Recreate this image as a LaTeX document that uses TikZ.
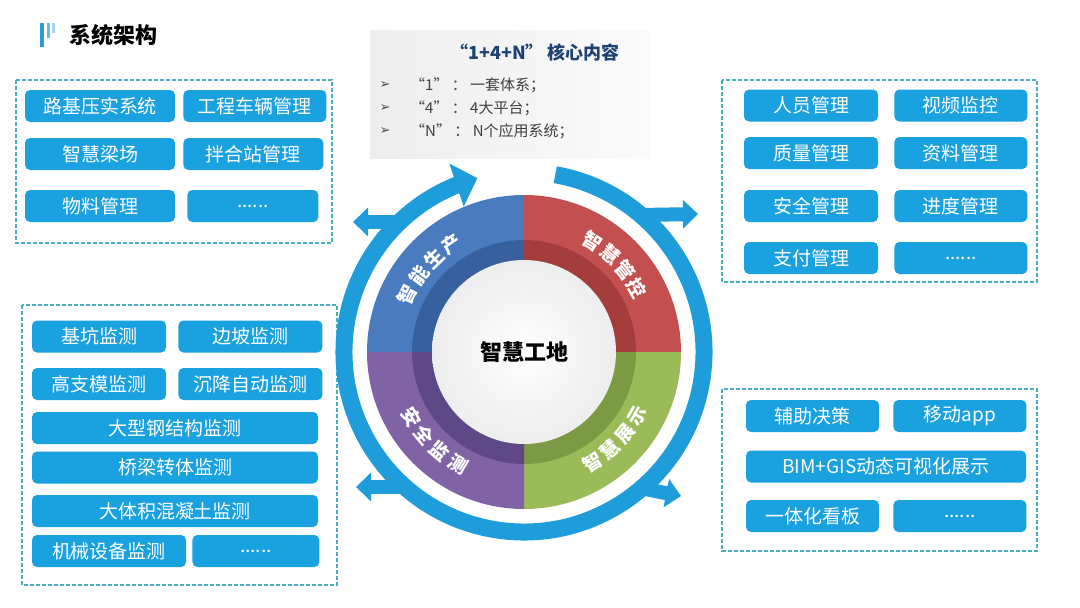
\documentclass[tikz,border=0pt]{standalone}
\usepackage{fontspec}
\setmainfont{Noto Sans CJK SC}
\newfontfamily\symfont{DejaVu Sans}
\usetikzlibrary{arrows.meta, positioning, calc, bending}
\definecolor{itemblue}{HTML}{1AA1E0}
\definecolor{panelteal}{HTML}{4AAEC3}
\definecolor{ringblue}{HTML}{1F9DDB}
\definecolor{iconblue}{HTML}{2A9FCF}
\definecolor{navy}{HTML}{1F4275}
\definecolor{tlblue}{HTML}{4A7BBF}
\definecolor{tldark}{HTML}{36619E}
\definecolor{trred}{HTML}{C3504E}
\definecolor{trdark}{HTML}{A33E3C}
\definecolor{brgreen}{HTML}{9BBB59}
\definecolor{brdark}{HTML}{7C9A43}
\definecolor{blpurple}{HTML}{7F63A4}
\definecolor{bldark}{HTML}{5E4886}
\tikzset{
  item/.style={rectangle, rounded corners=5pt, fill=itemblue, text=white,
               minimum height=32pt, inner sep=0pt,
               font=\fontsize{19}{21}\selectfont},
  panel/.style={draw=panelteal, dash pattern=on 4pt off 2pt, line width=1.4pt},
  seglabel/.style={text=white, inner sep=0pt, font=\fontsize{19}{21}\selectfont\bfseries},
  ringarrow/.style={draw=ringblue, line width=17pt,
                    -{Triangle[length=22pt, width=44pt]}},
  branch/.style={draw=ringblue, line width=14pt,
                 -{Triangle[length=15pt, width=28pt]}},
  bullettext/.style={anchor=west, inner sep=0pt, text=black!75,
                     font=\fontsize{15}{17}\selectfont},
}
\begin{document}
\begin{tikzpicture}[x=1pt, y=-1pt]
\useasboundingbox (0,0) rectangle (1080,608);
\fill[white] (0,0) rectangle (1080,608);

% title
\fill[iconblue] (40,23) rectangle (43.5,47);
\fill[iconblue!70] (47,23) rectangle (50,38);
\fill[iconblue!45] (52,23) rectangle (54.5,33);
\node[anchor=west, inner sep=0pt, font=\fontsize{22}{24}\selectfont\bfseries]
  (title) at (69,35) {系统架构};

% core content box
\node[rectangle, minimum width=280pt, minimum height=128pt,
      left color=gray!14, right color=gray!3] (core) at (510,94) {};
\node[text=navy, font=\fontsize{18}{20}\selectfont\bfseries] (coretitle) at (535,53)
  {“1+4+N”\hspace{4pt}核心内容};
\foreach \txt [count=\i] in {{“1” ： 一套体系；}, {“4” ： 4大平台；}, {“N” ： N个应用系统；}} {
  \node[text=black!70, font=\symfont\fontsize{13}{14}\selectfont] (bullet-\i)
    at (385,{85+23*(\i-1)}) {➢};
  \node[bullettext] (line-\i) at (410,{85+23*(\i-1)}) {\txt};
}

% top-left panel
\draw[panel] (16,80) rectangle (332,243);
\node[item, minimum width=150pt] (road) at (100,106) {路基压实系统};
\node[item, minimum width=143pt, right=8pt of road] (vehicle) {工程车辆管理};
\node[item, minimum width=150pt] (beam) at (100,154) {智慧梁场};
\node[item, minimum width=140pt, right=8pt of beam] (mixing) {拌合站管理};
\node[item, minimum width=150pt] (material) at (100,206) {物料管理};
\node[item, minimum width=131pt, right=12pt of material] (tlmore) {......};

% top-right panel
\draw[panel] (722,80) rectangle (1037,282);
\node[item, minimum width=134pt] (staff) at (811,105.5) {人员管理};
\node[item, minimum width=133pt, right=16pt of staff] (video) {视频监控};
\node[item, minimum width=134pt] (quality) at (811,153) {质量管理};
\node[item, minimum width=133pt, right=16pt of quality] (archive) {资料管理};
\node[item, minimum width=134pt] (safety) at (811,206) {安全管理};
\node[item, minimum width=133pt, right=16pt of safety] (progress) {进度管理};
\node[item, minimum width=134pt] (payment) at (811,258) {支付管理};
\node[item, minimum width=133pt, right=16pt of payment] (trmore) {......};

% bottom-left panel
\draw[panel] (22,305) rectangle (337,585);
\node[item, minimum width=134pt] (pit) at (99,336.5) {基坑监测};
\node[item, minimum width=144pt, right=12pt of pit] (slope) {边坡监测};
\node[item, minimum width=134pt] (formwork) at (99,384) {高支模监测};
\node[item, minimum width=144pt, right=12pt of formwork] (settle) {沉降自动监测};
\node[item, minimum width=286pt] (steel) at (175,428) {大型钢结构监测};
\node[item, minimum width=286pt] (bridge) at (175,467.5) {桥梁转体监测};
\node[item, minimum width=286pt] (concrete) at (175,511) {大体积混凝土监测};
\node[item, minimum width=154pt] (machine) at (109,551) {机械设备监测};
\node[item, minimum width=127pt, right=6pt of machine] (blmore) {......};

% bottom-right panel
\draw[panel] (722,389) rectangle (1037,551);
\node[item, minimum width=133pt] (decision) at (812.5,416) {辅助决策};
\node[item, minimum width=133pt, right=14pt of decision] (mobile) {移动app};
\node[item, minimum width=280pt] (bimgis) at (886,466.5) {BIM+GIS动态可视化展示};
\node[item, minimum width=133pt] (board) at (812.5,516) {一体化看板};
\node[item, minimum width=133pt, right=14pt of board] (brmore) {......};

% hub
\coordinate (hub-c) at (524,352);
\foreach \a/\col/\dk in {90/tlblue/tldark, 0/trred/trdark,
                         270/brgreen/brdark, 180/blpurple/bldark} {
  \fill[\col] (hub-c) -- ++(\a:157pt)
    arc[start angle=\a, end angle=\a+90, radius=157pt] -- cycle;
  \fill[\dk] (hub-c) -- ++(\a:112pt)
    arc[start angle=\a, end angle=\a+90, radius=112pt] -- cycle;
}
\node[circle, minimum size=184pt, inner color=white, outer color=gray!14,
      font=\fontsize{22}{24}\selectfont\bfseries] (hub) at (hub-c) {智慧工地};

\foreach \ch [count=\i] in {智,能,生,产} {
  \pgfmathsetmacro\ang{154-10*(\i-1)}
  \node[seglabel, rotate=\ang-90] (prod-\i) at ($(hub-c)+(\ang:130pt)$) {\ch};
}
\foreach \ch [count=\i] in {智,慧,管,控} {
  \pgfmathsetmacro\ang{58-9.5*(\i-1)}
  \node[seglabel, rotate=\ang-90] (ctrl-\i) at ($(hub-c)+(\ang:130pt)$) {\ch};
}
\foreach \ch [count=\i] in {智,慧,展,示} {
  \pgfmathsetmacro\ang{302+9.5*(\i-1)}
  \node[seglabel, rotate=\ang+90] (show-\i) at ($(hub-c)+(\ang:130pt)$) {\ch};
}
\foreach \ch [count=\i] in {安,全,监,测} {
  \pgfmathsetmacro\ang{210+9.8*(\i-1)}
  \node[seglabel, rotate=\ang+90] (safe-\i) at ($(hub-c)+(\ang:130pt)$) {\ch};
}

% outer ring and branches
\draw[ringarrow] ($(hub-c)+(80:180pt)$) arc[start angle=80, end angle=-255, radius=180pt];
\coordinate (tl-root) at (400,222); \coordinate (tl-tip) at (353,222);
\coordinate (tr-root) at (640,215); \coordinate (tr-tip) at (698,214);
\coordinate (bl-root) at (405,487); \coordinate (bl-tip) at (356,487);
\coordinate (br-root) at (640,488); \coordinate (br-tip) at (681,496);
\draw[branch] (tl-root) -- (tl-tip);
\draw[branch] (tr-root) -- (tr-tip);
\draw[branch] (bl-root) -- (bl-tip);
\draw[branch] (br-root) -- (br-tip);
\end{tikzpicture}
\end{document}
